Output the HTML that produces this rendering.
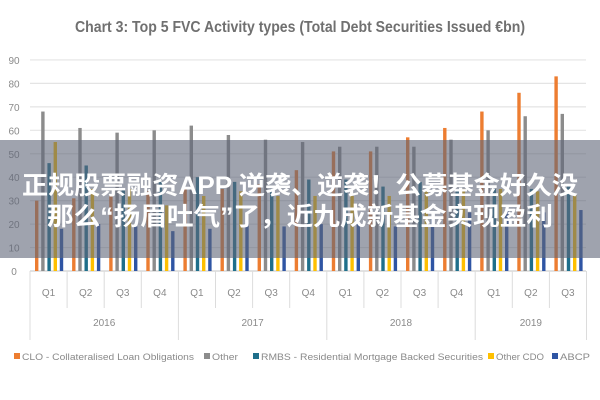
<!DOCTYPE html>
<html><head><meta charset="utf-8"><style>
html,body{margin:0;padding:0;background:#fff;width:600px;height:400px;overflow:hidden}
svg{display:block;font-family:"Liberation Sans","Noto Sans CJK SC",sans-serif}
</style></head><body>
<svg id="chart" width="600" height="400" viewBox="0 0 600 400" xmlns="http://www.w3.org/2000/svg">
<text x="300" y="32" text-anchor="middle" font-size="16" font-weight="bold" fill="#707070" textLength="450" lengthAdjust="spacingAndGlyphs">Chart 3: Top 5 FVC Activity types (Total Debt Securities Issued €bn)</text>
<g id="grid"></g>
<g id="ylab"></g>
<g id="bars"></g>
<g id="xaxis"></g>
<g id="legend"></g>
<rect x="0" y="140" width="600" height="118" fill="#5f6678" opacity="0.6"/>
<text x="300" y="194" text-anchor="middle" font-size="25" font-weight="bold" fill="#fff" textLength="556" lengthAdjust="spacingAndGlyphs">正规股票融资APP 逆袭、逆袭！公募基金好久没</text>
<text x="300" y="225" text-anchor="middle" font-size="25" font-weight="bold" fill="#fff" textLength="506" lengthAdjust="spacingAndGlyphs">那么“扬眉吐气”了，近九成新基金实现盈利</text>
</svg>
<script>
const quarters=["Q1","Q2","Q3","Q4","Q1","Q2","Q3","Q4","Q1","Q2","Q3","Q4","Q1","Q2","Q3"];
const years=["2016","2017","2018","2019"];
const yearSpans=[4,4,4,3];
const seriesNames=["CLO - Collateralised Loan Obligations","Other","RMBS - Residential Mortgage Backed Securities","Other CDO","ABCP"];
const clo=[30,31,32,34,35,35,37,43,51,51,57,61,68,76,83];
const other=[68,61,59,60,62,58,56,55,53,53,53,56,60,66,67];
const rmbs=[46,45,35,38,40,38,35,39,39,36,38,34,35,35,36];
const otherCdo=[55,35,35,28,32,34,32,32,32,32,34,35,35,34,33];
const abcp=[18,20,19,17,18,20,19,20,22,19,23,25,26,25,26];
const yTicks=[0,10,20,30,40,50,60,70,80,90];
const colors=["#ed7d31","#8c8c8c","#1f6f8b","#ffc000","#2f55a4"];
const series=[clo,other,rmbs,otherCdo,abcp];
const NS="http://www.w3.org/2000/svg";
const x0=30,gw=37.1,y0=271,ppu=2.345;
const yS=v=>y0-v*ppu;
const xS=i=>x0+i*gw;
function mk(t,a,p){const e=document.createElementNS(NS,t);for(const k in a)e.setAttribute(k,a[k]);p.appendChild(e);return e;}
const grid=document.getElementById('grid'),ylab=document.getElementById('ylab');
yTicks.forEach(v=>{
 const l=mk('line',{x1:x0,x2:586,y1:yS(v),y2:yS(v),stroke:v===0?'#d0d0d0':'#e4e4e4','stroke-width':1.2},grid);
 
 
 const t=mk('text',{x:14,y:yS(v)+4,'text-anchor':'middle','font-size':10,fill:'#8a8a8a'},ylab);
 t.textContent=v;
 
 
});
const bars=document.getElementById('bars');
series.forEach((s,si)=>{s.forEach((v,i)=>{
 const r=mk('rect',{x:xS(i)+5+si*6.2,y:yS(v),width:3.4,height:v*ppu,fill:colors[si]},bars);
 
 
});});
const xa=document.getElementById('xaxis');
quarters.forEach((q,i)=>{
 const t=mk('text',{x:xS(i)+gw/2,y:296,'text-anchor':'middle','font-size':10,fill:'#8a8a8a'},xa);
 t.textContent=q;
 
 
});
let idx=0;
for(let i=0;i<=quarters.length;i++){
 const isY=[0,4,8,12,15].includes(i);
 const l=mk('line',{x1:xS(i),x2:xS(i),y1:y0,y2:isY?340:308,stroke:'#dcdcdc','stroke-width':1},xa);
 
 
}
years.forEach((y,k)=>{
 const c=xS(idx+yearSpans[k]/2);idx+=yearSpans[k];
 const t=mk('text',{x:c,y:326,'text-anchor':'middle','font-size':10,fill:'#8a8a8a'},xa);
 t.textContent=y;
 
 
});
const lg=document.getElementById('legend');
const lx=[14,204,253,488,552],lw=[180,34,230,56,38];
seriesNames.forEach((n,i)=>{
 const g=mk('g',{},lg);
 
 
 mk('rect',{x:lx[i],y:353,width:6,height:6,fill:colors[i]},g);
 const t=mk('text',{x:lx[i]+8,y:360,'font-size':9,fill:'#8a8a8a',textLength:lw[i]-8,lengthAdjust:'spacingAndGlyphs'},g);
 t.textContent=n;
});
</script>
</body></html>
